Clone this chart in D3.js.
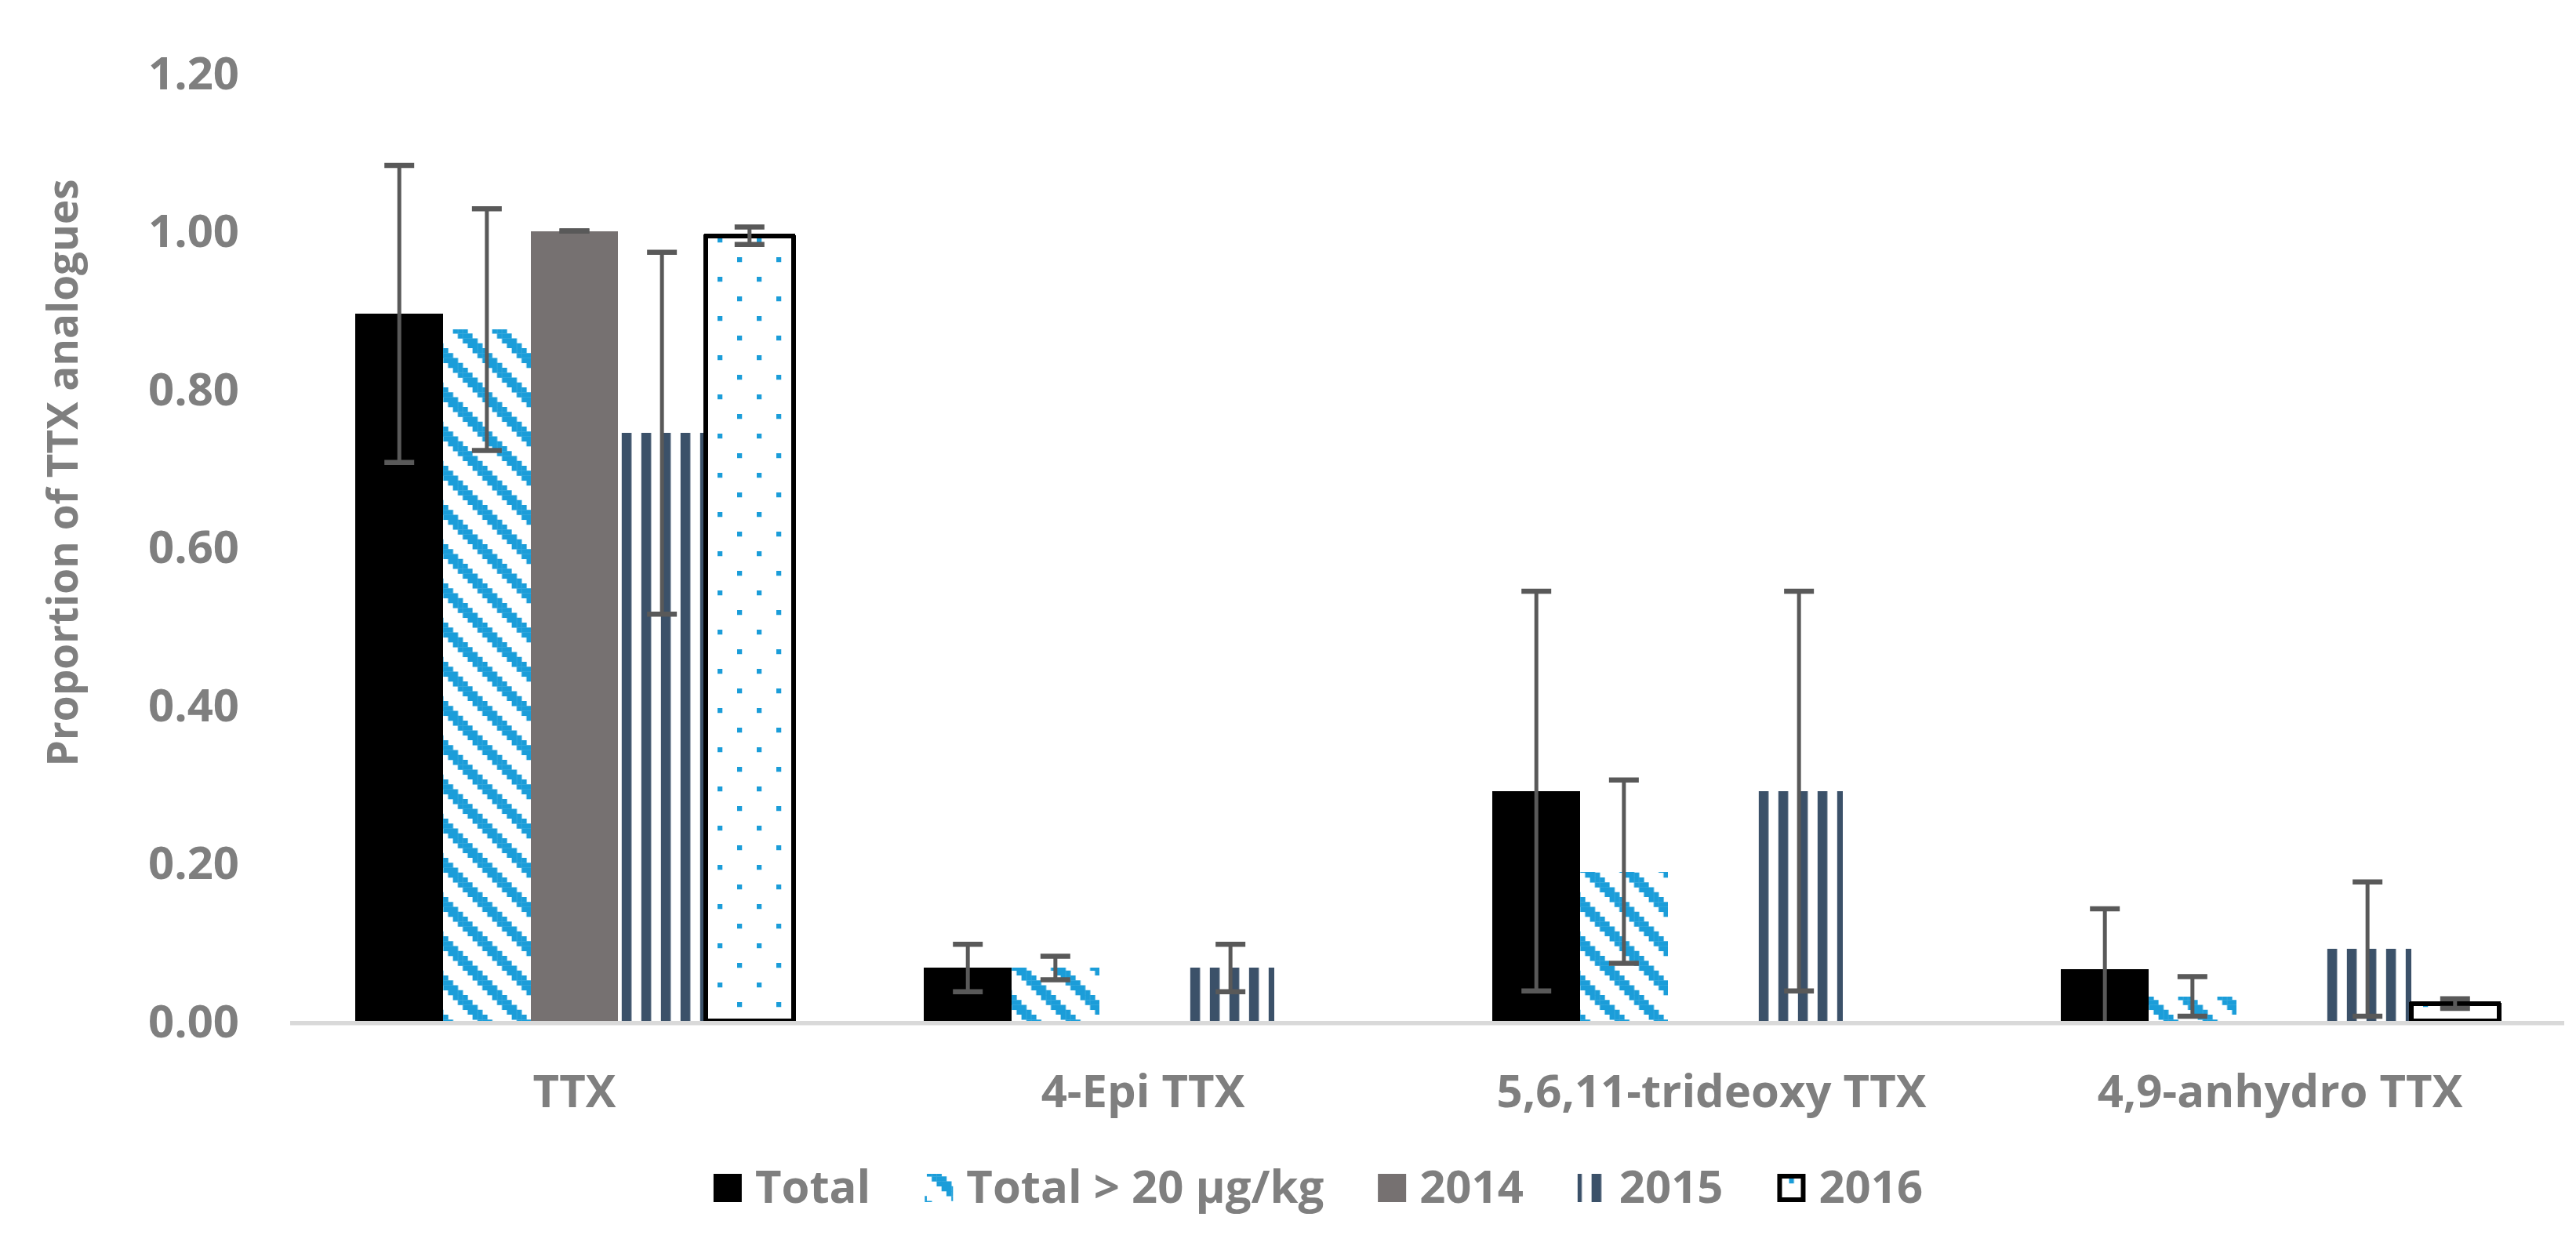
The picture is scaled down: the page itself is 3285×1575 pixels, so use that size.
<html>
<head>
<meta charset="utf-8">
<style>
  body { margin: 0; background: #fff; }
  text { font-family: "Open Sans", "Noto Sans", sans-serif; font-weight: bold; fill: #7f7f7f; }
</style>
</head>
<body>
<svg width="3285" height="1575" style="background: white"></svg>

<script src="https://cdn.jsdelivr.net/npm/d3@7"></script>
<script type="text/javascript">
const categories = ["TTX", "4-Epi TTX", "5,6,11-trideoxy TTX", "4,9-anhydro TTX"];
const series = ["Total", "Total > 20 µg/kg", "2014", "2015", "2016"];

// proportions, null = no bar
const total      = [0.895, 0.067, 0.291, 0.066];
const total_err  = [0.188, 0.030, 0.253, 0.076];
const over20     = [0.875, 0.067, 0.189, 0.031];
const over20_err = [0.153, 0.015, 0.116, 0.025];
const y2014      = [1.000, null, null, null];
const y2014_err  = [0.000, null, null, null];
const y2015      = [0.744, 0.067, 0.291, 0.091];
const y2015_err  = [0.229, 0.030, 0.253, 0.085];
const y2016      = [0.994, null, null, 0.022];
const y2016_err  = [0.011, null, null, 0.006];

const y_ticks = [0, 0.2, 0.4, 0.6, 0.8, 1.0, 1.2];

const values = [total, over20, y2014, y2015, y2016];
const errors = [total_err, over20_err, y2014_err, y2015_err, y2016_err];

let svg = d3.select("svg");

const blue = "#1b9dd9";
const slate = "#3b5169";
const err_color = "#595959";

let x0 = d3.scaleBand().domain(categories).range([370, 3270]).paddingInner(0.23).paddingOuter(0.115);
let x1 = d3.scaleBand().domain(series).range([0, x0.bandwidth()]);
let y = d3.scaleLinear().domain([0, 1.2]).range([1302, 93]);

// ---- patterns (excel-like 8x8 bitmaps scaled up)
let defs = svg.append("defs");
const cell = 6.25;

let hatch = defs.append("pattern").attr("id", "hatch").attr("patternUnits", "userSpaceOnUse")
  .attr("width", 8 * cell).attr("height", 8 * cell).attr("x", 2.6).attr("y", 44);
hatch.append("rect").attr("width", 8 * cell).attr("height", 8 * cell).attr("fill", "white");
for (let r = 0; r < 8; r++) {
  for (let k = 0; k < 3; k++) {
    hatch.append("rect").attr("x", ((r + k) % 8) * cell).attr("y", r * cell)
      .attr("width", cell + 0.3).attr("height", cell + 0.3).attr("fill", blue);
  }
}

let vert = defs.append("pattern").attr("id", "vert").attr("patternUnits", "userSpaceOnUse")
  .attr("width", 4 * cell).attr("height", 4 * cell).attr("x", x0(categories[0]) + x1("2015") + 4.5).attr("y", 0);
vert.append("rect").attr("width", 4 * cell).attr("height", 4 * cell).attr("fill", "white");
vert.append("rect").attr("width", 2 * cell).attr("height", 4 * cell).attr("fill", slate);

let dots = defs.append("pattern").attr("id", "dots").attr("patternUnits", "userSpaceOnUse")
  .attr("width", 8 * cell).attr("height", 8 * cell).attr("x", 15).attr("y", 3);
dots.append("rect").attr("width", 8 * cell).attr("height", 8 * cell).attr("fill", "white");
dots.append("rect").attr("x", 0).attr("y", 0).attr("width", cell).attr("height", cell).attr("fill", blue);
dots.append("rect").attr("x", 4 * cell).attr("y", 4 * cell).attr("width", cell).attr("height", cell).attr("fill", blue);

const fills = ["#000000", "url(#hatch)", "#767171", "url(#vert)", "url(#dots)"];
const strokes = [null, null, null, null, "#000000"];

// ---- bars
let bar_g = svg.append("g");
series.forEach((s, i) => {
  let d = categories.map((c, j) => ({c: c, v: values[i][j], e: errors[i][j]})).filter(o => o.v != null);
  let sel = bar_g.selectAll(".bar" + i).data(d).enter().append("rect")
    .attr("x", o => x0(o.c) + x1(s))
    .attr("y", o => y(o.v))
    .attr("width", x1.bandwidth())
    .attr("height", o => y(0) - y(o.v))
    .attr("fill", fills[i])
    .attr("shape-rendering", "crispEdges");
  if (strokes[i]) sel.attr("stroke", strokes[i]).attr("stroke-width", 6).attr("stroke-linejoin", "round");
});

// axis line
svg.append("line").attr("x1", 370).attr("x2", 3270).attr("y1", y(0) + 2.8).attr("y2", y(0) + 2.8)
  .attr("stroke", "#d9d9d9").attr("stroke-width", 5.5);

// ---- error bars (clipped at zero like the plot area)
let err_g = svg.append("g").attr("stroke", err_color).attr("stroke-width", 5);
series.forEach((s, i) => {
  categories.forEach((c, j) => {
    const v = values[i][j];
    if (v == null) return;
    const e = errors[i][j];
    const cx = x0(c) + x1(s) + x1.bandwidth() / 2;
    const lo = Math.max(0, v - e);
    err_g.append("line").attr("x1", cx).attr("x2", cx).attr("y1", y(v + e)).attr("y2", y(lo));
    [v + e, v - e].filter(t => t >= 0).forEach(t => {
      err_g.append("line").attr("x1", cx - 19).attr("x2", cx + 19).attr("y1", y(t)).attr("y2", y(t))
        .attr("stroke-width", 6.5);
    });
  });
});

// ---- y axis labels
svg.append("g").selectAll("text").data(y_ticks).enter().append("text")
  .attr("x", 305).attr("y", d => y(d)).attr("dy", "0.36em")
  .attr("text-anchor", "end").style("font-size", "58px")
  .text(d => d.toFixed(2));

// ---- category labels
svg.append("g").selectAll("text").data(categories).enter().append("text")
  .attr("x", c => x0(c) + x0.bandwidth() / 2).attr("y", 1412)
  .attr("text-anchor", "middle").style("font-size", "58px")
  .text(c => c);

// y title
svg.append("text").attr("transform", "translate(80,603) rotate(-90)")
  .attr("text-anchor", "middle").attr("dy", "0.36em").style("font-size", "53px")
  .text("Proportion of TTX analogues");

// ---- legend
let legend_g = svg.append("g");
let lx = 0;
series.forEach((s, i) => {
  let item = legend_g.append("g").attr("transform", "translate(" + lx + ",0)");
  let sw = item.append("rect").attr("x", 0).attr("y", 1497).attr("width", 36).attr("height", 36)
    .attr("fill", fills[i]);
  if (strokes[i]) sw.attr("x", 3).attr("y", 1500).attr("width", 30).attr("height", 30)
    .attr("stroke", strokes[i]).attr("stroke-width", 6);
  let t = item.append("text").attr("x", 53).attr("y", 1534).style("font-size", "58px").text(s);
  lx += 53 + t.node().getComputedTextLength() + 69;
});
lx -= 69;
legend_g.attr("transform", "translate(" + (1681 - lx / 2) + ",0)");
</script>
</body>
</html>
